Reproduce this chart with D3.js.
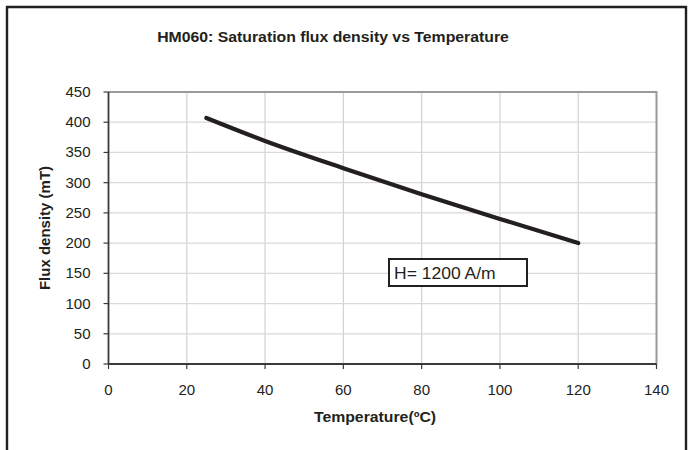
<!DOCTYPE html>
<html>
<head>
<meta charset="utf-8">
<script src="https://cdn.jsdelivr.net/npm/d3@7"></script>
<style>
  html, body { margin: 0; padding: 0; background: #fff; }
  svg { display: block; }
  text { font-family: "Liberation Sans", Arial, sans-serif; fill: #231f20; }
</style>
</head>
<body>
<svg id="chart" width="692" height="450"></svg>
<script>
// ---- data ----
const temperatures = [25, 40, 60, 80, 100, 120];
const fluxDensity = [407, 369, 324, 281, 240, 200];
const xTicks = [0, 20, 40, 60, 80, 100, 120, 140];
const yTicks = [0, 50, 100, 150, 200, 250, 300, 350, 400, 450];
const titleText = "HM060: Saturation flux density vs Temperature";
const xTitle = "Temperature(ºC)";
const yTitle = "Flux density (mT)";
const noteText = "H= 1200 A/m";

const svg = d3.select("#chart");
const SX = 1.075; // horizontal text stretch of the original

const x = d3.scaleLinear().domain([0, 140]).range([108.5, 656.5]);
const y = d3.scaleLinear().domain([0, 450]).range([364, 92]);

// outer frame
svg.append("path")
  .attr("d", "M7,460 L7,7 L686,7 L686,460")
  .attr("fill", "none").attr("stroke", "#231f20").attr("stroke-width", 2.4);

// gridlines
const grid = svg.append("g");
grid.selectAll("line.v").data(xTicks.slice(1, -1)).join("line")
  .attr("x1", d => x(d)).attr("x2", d => x(d))
  .attr("y1", y(0)).attr("y2", y(450))
  .attr("stroke", "#d2d2d2").attr("stroke-width", 1.2);
grid.selectAll("line.h").data(yTicks.slice(1, -1)).join("line")
  .attr("x1", x(0)).attr("x2", x(140))
  .attr("y1", d => y(d)).attr("y2", d => y(d))
  .attr("stroke", "#d9d9d9").attr("stroke-width", 1.2);

// plot border top / right (gray)
svg.append("path")
  .attr("d", `M${x(0)},${y(450)} L${x(140)},${y(450)} L${x(140)},${y(0)}`)
  .attr("fill", "none").attr("stroke", "#9a9a9a").attr("stroke-width", 2);

// axes lines
svg.append("line").attr("x1", x(0)).attr("x2", x(0)).attr("y1", y(0)).attr("y2", y(450))
  .attr("stroke", "#3a3a3a").attr("stroke-width", 1.8);
svg.append("line").attr("x1", x(0)).attr("x2", x(140)).attr("y1", y(0)).attr("y2", y(0))
  .attr("stroke", "#3a3a3a").attr("stroke-width", 1.8);

// tick marks
svg.append("g").selectAll("line").data(yTicks).join("line")
  .attr("x1", x(0) - 5).attr("x2", x(0))
  .attr("y1", d => y(d)).attr("y2", d => y(d))
  .attr("stroke", "#3a3a3a").attr("stroke-width", 1.2);
svg.append("g").selectAll("line").data(xTicks).join("line")
  .attr("x1", d => x(d)).attr("x2", d => x(d))
  .attr("y1", y(0)).attr("y2", y(0) + 5)
  .attr("stroke", "#3a3a3a").attr("stroke-width", 1.2);

// tick labels
svg.append("g").selectAll("g").data(yTicks).join("g")
  .attr("transform", d => `translate(${x(0) - 18},${y(d) + 5}) scale(${SX},1)`)
  .append("text").attr("text-anchor", "end").attr("font-size", 14)
  .text(d => d);
svg.append("g").selectAll("g").data(xTicks).join("g")
  .attr("transform", d => `translate(${x(d)},${y(0) + 31}) scale(${SX},1)`)
  .append("text").attr("text-anchor", "middle").attr("font-size", 14)
  .text(d => d);

// axis titles
svg.append("g").attr("transform", `translate(375,422) scale(${SX},1)`)
  .append("text").attr("text-anchor", "middle").attr("font-size", 14.7).attr("font-weight", "bold")
  .text(xTitle);
svg.append("g").attr("transform", `translate(50,${(y(0) + y(450)) / 2}) rotate(-90)`)
  .append("text").attr("text-anchor", "middle").attr("font-size", 15).attr("font-weight", "bold")
  .text(yTitle);

// chart title
svg.append("g").attr("transform", `translate(333,42) scale(1.02,1)`)
  .append("text").attr("text-anchor", "middle").attr("font-size", 15.5).attr("font-weight", "bold")
  .text(titleText);

// data line
const pts = temperatures.map((t, i) => [t, fluxDensity[i]]);
svg.append("path")
  .datum(pts)
  .attr("d", d3.line().x(d => x(d[0])).y(d => y(d[1])).curve(d3.curveMonotoneX))
  .attr("fill", "none").attr("stroke", "#231f20").attr("stroke-width", 4.2)
  .attr("stroke-linecap", "round");

// annotation box
svg.append("rect").attr("x", 389).attr("y", 259).attr("width", 138).attr("height", 27)
  .attr("fill", "#fff").attr("stroke", "#231f20").attr("stroke-width", 2);
svg.append("g").attr("transform", `translate(394,278.5) scale(${SX},1)`)
  .append("text").attr("font-size", 16.3).text(noteText);
</script>
</body>
</html>
